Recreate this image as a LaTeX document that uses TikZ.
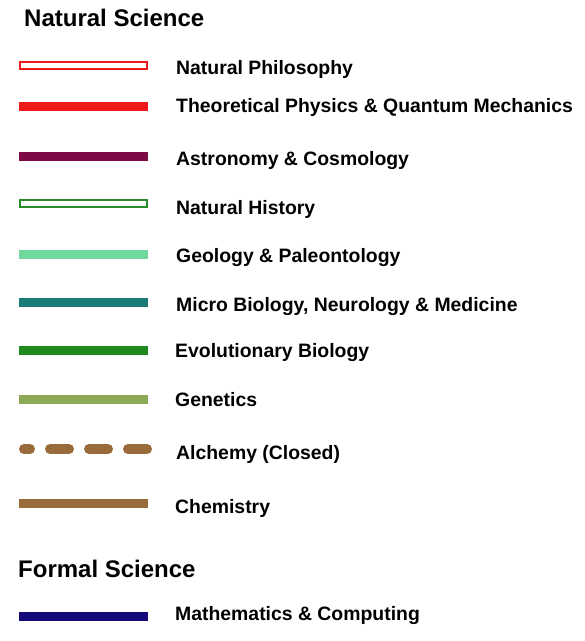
\documentclass[tikz,border=0pt]{standalone}
\usepackage{fontspec}
\setmainfont{Liberation Sans}
\definecolor{cPhys}{RGB}{238,26,26}
\definecolor{cAstro}{RGB}{125,10,69}
\definecolor{cNatHist}{RGB}{40,138,40}
\definecolor{cGeo}{RGB}{112,216,156}
\definecolor{cMicro}{RGB}{26,122,120}
\definecolor{cEvo}{RGB}{30,138,30}
\definecolor{cGen}{RGB}{140,170,85}
\definecolor{cChem}{RGB}{154,107,58}
\definecolor{cMath}{RGB}{20,8,122}
\tikzset{
  header/.style={anchor=base west, inner sep=0pt, font=\fontsize{24bp}{28bp}\selectfont\bfseries},
  label/.style={anchor=base west, inner sep=0pt, font=\fontsize{19.4bp}{23bp}\selectfont\bfseries},
  solidline/.style={line width=9bp},
  hollowline/.style={line width=2bp, fill=white},
  dashline/.style={line width=10bp, line cap=round, dash pattern=on 19bp off 20bp, dash phase=13bp}
}
\begin{document}
\begin{tikzpicture}[x=1bp,y=-1bp]
\useasboundingbox (0,0) rectangle (585,641);
% headers
\node[header] (hnat) at (24,27) {Natural Science};
\node[header] (hform) at (18,577) {Formal Science};
% lines
\draw[hollowline, draw=cPhys] (20,62) rectangle (147,69);
\draw[solidline, cPhys] (19,107) -- (148,107);
\draw[solidline, cAstro] (19,156.5) -- (148,156.5);
\draw[hollowline, draw=cNatHist] (20,200) rectangle (147,207);
\draw[solidline, cGeo] (19,254) -- (148,254);
\draw[solidline, cMicro] (19,302) -- (148,302);
\draw[solidline, cEvo] (19,350) -- (148,350);
\draw[solidline, cGen] (19,399) -- (148,399);
\draw[dashline, cChem] (24,449) -- (147,449);
\draw[solidline, cChem] (19,503) -- (148,503);
\draw[solidline, cMath] (19,616.5) -- (148,616.5);
% labels
\node[label] (l1) at (176,75) {Natural Philosophy};
\node[label] (l2) at (176,113) {Theoretical Physics \& Quantum Mechanics};
\node[label] (l3) at (176,166) {Astronomy \& Cosmology};
\node[label] (l4) at (176,214) {Natural History};
\node[label] (l5) at (176,262) {Geology \& Paleontology};
\node[label] (l6) at (176,311) {Micro Biology, Neurology \& Medicine};
\node[label] (l7) at (175,357) {Evolutionary Biology};
\node[label] (l8) at (175,406) {Genetics};
\node[label] (l9) at (176,459) {Alchemy (Closed)};
\node[label] (l10) at (175,513) {Chemistry};
\node[label] (l11) at (175,620) {Mathematics \& Computing};
\end{tikzpicture}
\end{document}
